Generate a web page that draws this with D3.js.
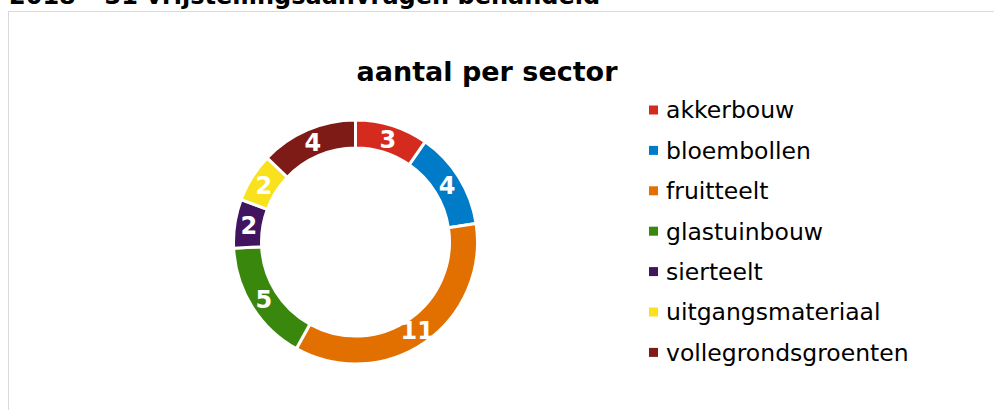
<!DOCTYPE html>
<html>
<head>
<meta charset="utf-8">
<script src="https://cdn.jsdelivr.net/npm/d3@7"></script>
<style>
    html, body { margin: 0; padding: 0; background: #fff; overflow: hidden; }
    svg { display: block; font-family: "DejaVu Sans", Verdana, sans-serif; }
</style>
</head>
<body>
<div id="chart"></div>
<script>
// donut: aantal vrijstellingsaanvragen per sector (2018)
const sectoren = ['akkerbouw', 'bloembollen', 'fruitteelt', 'glastuinbouw', 'sierteelt', 'uitgangsmateriaal', 'vollegrondsgroenten'];
const aantallen = [3, 4, 11, 5, 2, 2, 4];
const kleuren = ['#d52b1e', '#007bc7', '#e17000', '#39870c', '#42145f', '#f9e11e', '#7e1b16'];
const paginaTitel = '2018 \u2013 31 vrijstellingsaanvragen behandeld';
const grafiekTitel = 'aantal per sector';

const width = 994, height = 410;

const svg = d3.select('#chart').append('svg')
    .attr('width', width)
    .attr('height', height);

// titel boven het kader, bovenkant valt buiten beeld (zoals in het origineel)
svg.append('text')
    .attr('x', 9)
    .attr('y', 4)
    .style('font-size', '24px')
    .style('font-weight', 'bold')
    .attr('fill', '#000')
    .text(paginaTitel);

// kader van de grafiek (loopt rechts en onder door)
svg.append('rect')
    .attr('x', 8.5)
    .attr('y', 11.5)
    .attr('width', 1000)
    .attr('height', 420)
    .attr('fill', '#fff')
    .attr('stroke', '#d9d9d9')
    .attr('stroke-width', 1);

svg.append('text')
    .attr('x', 487)
    .attr('y', 81)
    .attr('text-anchor', 'middle')
    .style('font-size', '27px')
    .style('font-weight', 'bold')
    .attr('fill', '#000')
    .text(grafiekTitel);

const data = sectoren.map((s, i) => ({ sector: s, aantal: aantallen[i] }));

const kleur = d3.scaleOrdinal().domain(sectoren).range(kleuren);

const pie = d3.pie()
    .value(d => d.aantal)
    .sort(null);

const arc = d3.arc()
    .innerRadius(94)
    .outerRadius(122);

const g = svg.append('g')
    .attr('transform', 'translate(355.5,242)');

const bogen = pie(data);

g.selectAll('path.segment')
    .data(bogen)
    .join('path')
    .attr('class', 'segment')
    .attr('d', arc)
    .attr('fill', d => kleur(d.data.sector))
    .attr('stroke', '#fff')
    .attr('stroke-width', 3);

// waardes in wit op het midden van de ring
g.selectAll('text.waarde')
    .data(bogen)
    .join('text')
    .attr('class', 'waarde')
    .attr('x', d => arc.centroid(d)[0])
    .attr('y', d => arc.centroid(d)[1])
    .attr('dy', '0.36em')
    .attr('text-anchor', 'middle')
    .style('font-size', '24px')
    .style('font-weight', 'bold')
    .attr('fill', '#fff')
    .text(d => d.data.aantal);

// legenda rechts
const legenda = svg.append('g')
    .attr('transform', 'translate(649,110)');

const rij = legenda.selectAll('g.rij')
    .data(sectoren)
    .join('g')
    .attr('class', 'rij')
    .attr('transform', (d, i) => `translate(0,${i * 40.4})`);

rij.append('rect')
    .attr('x', 0)
    .attr('y', -4.5)
    .attr('width', 9)
    .attr('height', 9)
    .attr('fill', d => kleur(d));

rij.append('text')
    .attr('x', 17)
    .attr('y', 0)
    .attr('dy', '0.36em')
    .style('font-size', '23.5px')
    .attr('fill', '#000')
    .text(d => d);
</script>
</body>
</html>
